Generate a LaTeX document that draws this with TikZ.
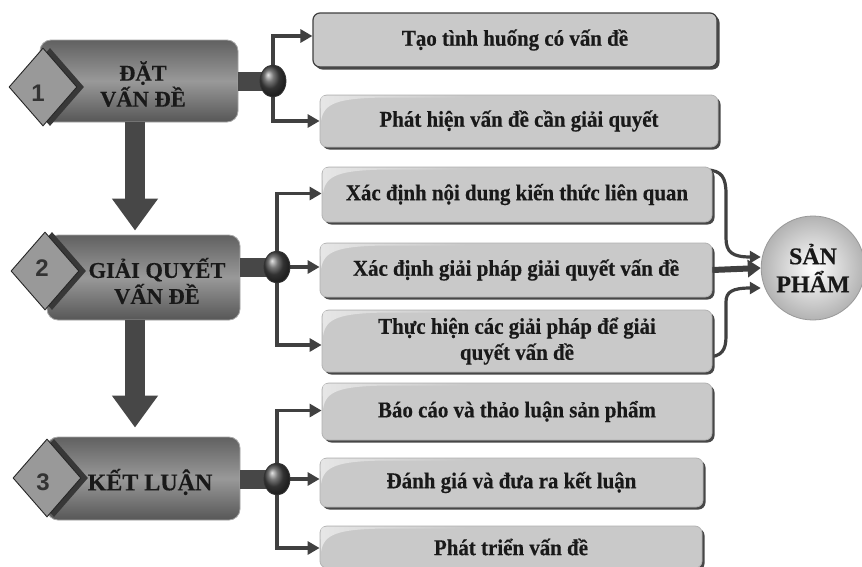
\documentclass[tikz,border=0pt]{standalone}
\usepackage{fontspec}
\setmainfont{Liberation Serif}
\newfontfamily\boxfont[FakeStretch=0.93,FakeBold=0.4]{Liberation Serif}
\newfontfamily\mainfont[FakeBold=0.3]{Liberation Serif}
\newfontfamily\numfont{Liberation Sans}
\usetikzlibrary{arrows.meta,shapes.geometric,shadows,fadings}
\newcommand\boxgloss[1]{%
  \fill[white,opacity=0.55,path fading=east]
    ([xshift=1.5pt,yshift=-26pt]#1.north west)
    .. controls ([xshift=4pt,yshift=-8pt]#1.north west) and ([xshift=20pt,yshift=-4pt]#1.north west)
    .. ([xshift=60pt,yshift=-3pt]#1.north west)
    -- ([xshift=150pt,yshift=-3pt]#1.north west)
    -- ([xshift=150pt,yshift=-1pt]#1.north west)
    -- ([xshift=8pt,yshift=-1pt]#1.north west)
    .. controls ([xshift=1.5pt,yshift=-1.5pt]#1.north west) .. ([xshift=1pt,yshift=-8pt]#1.north west)
    -- cycle;}
\begin{document}
\begin{tikzpicture}[x=1pt,y=-1pt,
  rbox/.style={rounded corners=7pt, fill=black!21, draw=black!30, line width=0.8pt,
    drop shadow={shadow xshift=2.5pt,shadow yshift=-2.5pt,fill=black!72,opacity=1},
    font=\boxfont\bfseries\fontsize{22.5}{26}\selectfont, text=black!90, align=center, inner sep=0pt},
  mbox/.style={rounded corners=11pt, top color=black!62, bottom color=black!66, middle color=black!40,
    draw=black!35, line width=0.8pt, inner sep=0pt},
  mtext/.style={font=\mainfont\bfseries\fontsize{22.5}{26}\selectfont, text=black!90, align=center, inner sep=0pt},
  diam/.style={diamond, minimum width=68pt, minimum height=78pt, inner sep=0pt,
    fill=black!40, draw=black!85, line width=0.9pt},
  dshadow/.style={diamond, minimum width=68pt, minimum height=78pt, inner sep=0pt, fill=black!78},
  num/.style={font=\numfont\bfseries\fontsize{24}{24}\selectfont, text=black!80, inner sep=0pt},
  junc/.style={ellipse, minimum width=26pt, minimum height=32pt, inner sep=0pt,
    draw=black!80, line width=0.8pt, shading=ball, ball color=black!72},
  stub/.style={line width=19pt, draw=black!72},
  conn/.style={line width=3.6pt, draw=black!75, -{Triangle[length=12pt,width=13pt]}},
  curv/.style={line width=3.2pt, draw=black!75, -{Triangle[length=11pt,width=12pt]}},
  thickarr/.style={line width=6pt, draw=black!75, -{Triangle[length=13pt,width=17pt]}},
  bigarr/.style={line width=20pt, draw=black!72, -{Triangle[length=32pt,width=44pt]}}
]
\fill[white] (0,0) rectangle (862,566);
\useasboundingbox (0,0) rectangle (862,566);

% product ellipse
\node[ellipse, minimum width=96pt, minimum height=104pt, inner sep=0pt, draw=black!40, line width=0.8pt,
  inner color=white, outer color=black!30, font=\mainfont\bfseries\fontsize{24}{28}\selectfont, text=black!90, align=center]
  (P) at (813,268) {SẢN\\PHẨM};

% main boxes
\node[mbox, minimum width=198pt, minimum height=82pt] (m1) at (139,81) {};
\node[mbox, minimum width=193pt, minimum height=85pt] (m2) at (143.5,277.5) {};
\node[mbox, minimum width=193pt, minimum height=83pt] (m3) at (143.5,478.5) {};
\node[mtext] (t1) at (143,84) {ĐẶT\\VẤN ĐỀ};
\node[mtext] (t2) at (157,281) {GIẢI QUYẾT\\VẤN ĐỀ};
\node[mtext, font=\mainfont\bfseries\fontsize{24}{26}\selectfont] (t3) at (150,482) {KẾT LUẬN};

% diamonds
\node[dshadow] (d1s) at (50,87) {};
\node[diam] (d1) at (43,87) {};
\node[num] (n1) at (38,93) {1};
\node[dshadow] (d2s) at (52,271) {};
\node[diam] (d2) at (45,271) {};
\node[num] (n2) at (42,268) {2};
\node[dshadow] (d3s) at (54,478) {};
\node[diam] (d3) at (47,478) {};
\node[num] (n3) at (43,482) {3};

% big down arrows
\draw[bigarr] ([xshift=-4pt]m1.south) -- ([xshift=-4pt,yshift=4pt]m1.south |- m2.north);
\draw[bigarr] ([xshift=-8.5pt]m2.south) -- ([xshift=-8.5pt,yshift=9pt]m2.south |- m3.north);

% junction coordinates
\coordinate (c1) at (273,81);
\coordinate (c2) at (277,267);
\coordinate (c3) at (277,479);

% right boxes
\node[rbox, draw=black!75, line width=1.2pt, minimum width=404pt, minimum height=54pt] (A) at (515,40) {Tạo tình huống có vấn đề};
\node[rbox, minimum width=398pt, minimum height=52pt] (B) at (519,121) {Phát hiện vấn đề cần giải quyết};

% curved connectors to product (behind boxes)
\draw[curv] (706,170) .. controls (722,170) and (726,178) .. (726,194)
  -- (726,238) .. controls (726,252) and (732,257) .. ([yshift=11pt]P.west);
\draw[curv] (706,357) .. controls (722,357) and (726,350) .. (726,336)
  -- (726,302) .. controls (726,292) and (732,288) .. ([yshift=-20pt]P.west);

\node[rbox, minimum width=390pt, minimum height=55pt] (C) at (517,194.5) {Xác định nội dung kiến thức liên quan};
\node[rbox, minimum width=392pt, minimum height=54pt] (D) at (516,270) {Xác định giải pháp giải quyết vấn đề};
\node[rbox, minimum width=390pt, minimum height=62pt] (E) at (517,341) {Thực hiện các giải pháp để giải\\quyết vấn đề};
\node[rbox, minimum width=390pt, minimum height=57pt] (F) at (517,411.5) {Báo cáo và thảo luận sản phẩm};
\node[rbox, minimum width=383pt, minimum height=49pt] (G) at (511.5,482.5) {Đánh giá và đưa ra kết luận};
\node[rbox, minimum width=382pt, minimum height=42pt] (H) at (511,547) {Phát triển vấn đề};

\foreach \b in {B,C,D,E,F,G,H} {\boxgloss{\b}}

\draw[thickarr] (D.east) -- (P.west);

% branch connectors
\draw[conn] (c1) |- ([yshift=4pt]A.west);
\draw[conn] (c1) |- (B.west);
\draw[conn] (c2) |- ([yshift=1pt]C.west);
\draw[conn] (c2) -- (c2 -| D.west);
\draw[conn] (c2) |- ([yshift=-4pt]E.west);
\draw[conn] (c3) |- ([yshift=1pt]F.west);
\draw[conn] (c3) -- (c3 -| G.west);
\draw[conn] (c3) |- ([yshift=-1pt]H.west);

% stubs and junctions
\draw[stub] (m1.east |- c1) -- (c1);
\draw[stub] (m2.east |- c2) -- (c2);
\draw[stub] (m3.east |- c3) -- (c3);
\node[junc] (j1) at (c1) {};
\node[junc] (j2) at (c2) {};
\node[junc] (j3) at (c3) {};
\end{tikzpicture}
\end{document}
